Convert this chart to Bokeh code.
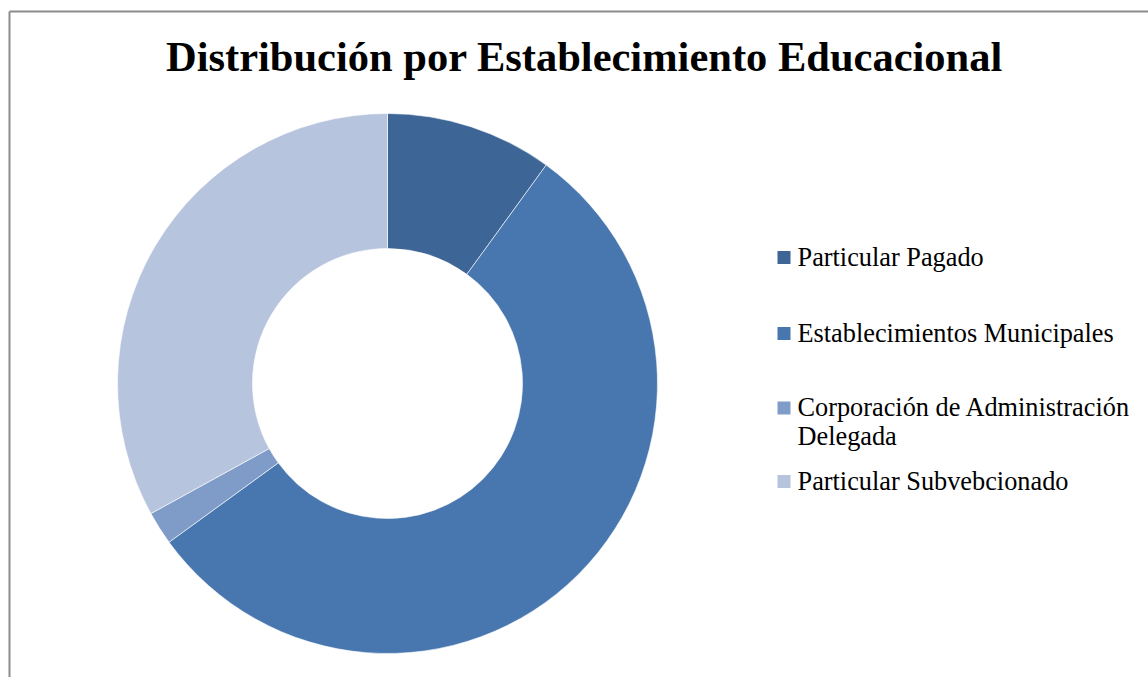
import math
from bokeh.plotting import figure
from bokeh.models import Range1d, ColumnDataSource
from bokeh.core.properties import value
from bokeh.embed import file_html
from bokeh.resources import INLINE

# ---- data ----
title = "Distribución por Establecimiento Educacional"
categories = ["Particular Pagado", "Establecimientos Municipales",
              "Corporación de Administración\nDelegada", "Particular Subvebcionado"]
shares = [10, 55, 2, 33]
colors = ["#3D6696", "#4877B0", "#7F9CC8", "#B6C4DE"]

# ---- layout (page pixels -> figure coords) ----
W, H = 1148, 677
def fx(px): return px
def fy(py): return H - py

p = figure(width=W, height=H, x_range=Range1d(0, W), y_range=Range1d(0, H),
           output_backend="svg", toolbar_location=None, min_border=0)
p.axis.visible = False
p.grid.visible = False
p.outline_line_color = None
p.background_fill_color = "white"
p.border_fill_color = "white"

# frame (only top/left visible in reference)
p.line([fx(9), fx(9)], [0, fy(11)], line_color="#8C8C8C", line_width=2)
p.line([fx(9), W], [fy(11), fy(11)], line_color="#8C8C8C", line_width=2)

# donut
total = float(sum(shares))
starts, ends = [], []
cum = 0.0
for s in shares:
    starts.append(math.pi / 2 - cum / total * 2 * math.pi)
    cum += s
    ends.append(math.pi / 2 - cum / total * 2 * math.pi)
src = ColumnDataSource(dict(start=starts, end=ends, color=colors))
p.annular_wedge(x=fx(387), y=fy(383), inner_radius=135, outer_radius=270,
                start_angle="start", end_angle="end", direction="clock",
                fill_color="color", line_color="white", line_width=0.6, source=src)

# title
p.text(x=[fx(584)], y=[fy(56)], text=[title], text_font=value("Liberation Serif"),
       text_font_style="bold", text_font_size="42.5px", text_color="black",
       text_align="center", text_baseline="alphabetic")

# legend
row_baselines = [265, 341, 415.5, 489]
square_offsets = 8
text_shift = 8.5
line_step = 28.5
for cat, col, base in zip(categories, colors, row_baselines):
    p.scatter(x=[fx(783.5)], y=[fy(base - square_offsets)], marker="square", size=13,
              fill_color=col, line_color=None)
    for i, ln in enumerate(cat.split("\n")):
        p.text(x=[fx(797)], y=[fy(base - text_shift + i * line_step)], text=[ln],
               text_font=value("Liberation Serif"), text_font_size="26.3px",
               text_color="black", text_align="left", text_baseline="alphabetic")

open("out.html", "w").write(file_html(p, INLINE))
